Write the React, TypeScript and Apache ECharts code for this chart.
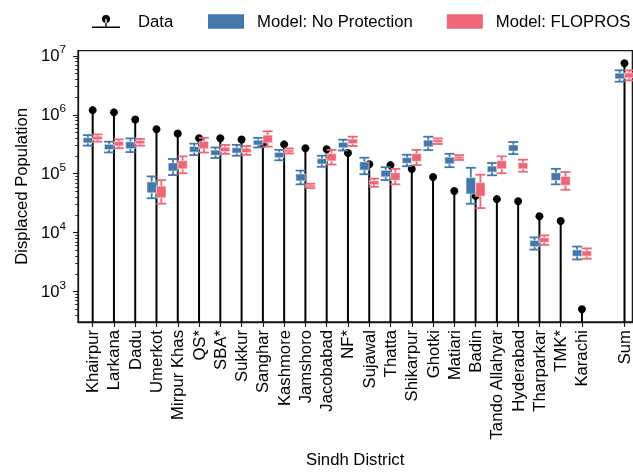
import React, { useEffect, useRef } from "react";
import * as echarts from "echarts";

const districts = [
  "Khairpur", "Larkana", "Dadu", "Umerkot", "Mirpur Khas", "QS*", "SBA*", "Sukkur",
  "Sanghar", "Kashmore", "Jamshoro", "Jacobabad", "NF*", "Sujawal", "Thatta", "Shikarpur",
  "Ghotki", "Matiari", "Badin", "Tando Allahyar", "Hyderabad", "Tharparkar", "TMK*", "Karachi", "Sum",
];
const positions = [0, 1, 2, 3, 4, 5, 6, 7, 8, 9, 10, 11, 12, 13, 14, 15, 16, 17, 18, 19, 20, 21, 22, 23, 25];

const observed = [
  1.2e6, 1.1e6, 8.3e5, 5.7e5, 4.8e5, 4.0e5, 4.0e5, 3.8e5, 3.2e5, 3.15e5, 2.7e5, 2.6e5, 2.25e5,
  1.45e5, 1.4e5, 1.2e5, 8.8e4, 5.1e4, 4.2e4, 3.7e4, 3.4e4, 1.9e4, 1.57e4, 500, 7.5e6,
];

// Model: No Protection
const npLow = [3.0e5, 2.3e5, 2.33e5, 3.83e4, 9.5e4, 2.07e5, 1.85e5, 2.02e5, 2.79e5, 1.69e5, 6.6e4, 1.31e5, 2.48e5, 9.8e4, 7.8e4, 1.34e5, 2.51e5, 1.29e5, 3.09e4, 9.4e4, 2.15e5, 5.15e3, 6.6e4, 3.5e3, 3.65e6];
const npQ1 = [3.33e5, 2.56e5, 2.66e5, 4.74e4, 1.11e5, 2.32e5, 2.05e5, 2.24e5, 3.06e5, 1.87e5, 7.57e4, 1.46e5, 2.76e5, 1.15e5, 8.83e4, 1.5e5, 2.86e5, 1.47e5, 4.52e4, 1.06e5, 2.42e5, 5.8e3, 7.71e4, 3.97e3, 4.07e6];
const npQ3 = [4.08e5, 3.16e5, 3.48e5, 7.28e4, 1.52e5, 2.9e5, 2.52e5, 2.78e5, 3.71e5, 2.3e5, 9.91e4, 1.81e5, 3.4e5, 1.59e5, 1.14e5, 1.88e5, 3.72e5, 1.91e5, 8.57e4, 1.35e5, 3.07e5, 7.35e3, 1.04e5, 5.11e3, 5.09e6];
const npHigh = [4.52e5, 3.5e5, 3.98e5, 9.0e4, 1.78e5, 3.24e5, 2.79e5, 3.09e5, 4.07e5, 2.54e5, 1.13e5, 2.02e5, 3.78e5, 1.87e5, 1.29e5, 2.1e5, 4.25e5, 2.18e5, 1.26e5, 1.52e5, 3.45e5, 8.3e3, 1.21e5, 5.8e3, 5.7e6];

// Model: FLOPROS
const fpLow = [3.5e5, 2.71e5, 3.0e5, 3.1e4, 1.02e5, 2.29e5, 2.18e5, 2.09e5, 2.88e5, 2.21e5, 5.69e4, 1.43e5, 2.95e5, 6.0e4, 6.6e4, 1.4e5, 3.2e5, 1.71e5, 2.61e4, 1.02e5, 1.08e5, 6.2e3, 5.35e4, 3.6e3, 3.83e6];
const fpQ1 = [3.77e5, 2.96e5, 3.22e5, 3.89e4, 1.21e5, 2.65e5, 2.38e5, 2.28e5, 3.35e5, 2.32e5, 5.94e4, 1.65e5, 3.24e5, 6.5e4, 7.69e4, 1.62e5, 3.38e5, 1.79e5, 4.14e4, 1.21e5, 1.21e5, 6.84e3, 6.35e4, 3.98e3, 4.23e6];
const fpQ3 = [4.34e5, 3.52e5, 3.66e5, 6.17e4, 1.67e5, 3.53e5, 2.82e5, 2.71e5, 4.52e5, 2.56e5, 6.47e4, 2.2e5, 3.88e5, 7.62e4, 1.04e5, 2.19e5, 3.77e5, 1.98e5, 7.08e4, 1.67e5, 1.54e5, 8.22e3, 8.97e4, 4.89e3, 5.15e6];
const fpHigh = [4.65e5, 3.83e5, 3.9e5, 7.8e4, 1.97e5, 4.07e5, 3.08e5, 2.95e5, 5.25e5, 2.69e5, 6.76e4, 2.54e5, 4.25e5, 8.26e4, 1.21e5, 2.54e5, 3.98e5, 2.07e5, 9.6e4, 1.97e5, 1.73e5, 9.0e3, 1.07e5, 5.4e3, 5.7e6];

const yMajor = [1e3, 1e4, 1e5, 1e6, 1e7];
const yMinor = [
  400, 500, 600, 700, 800, 900,
  2e3, 3e3, 4e3, 5e3, 6e3, 7e3, 8e3, 9e3,
  2e4, 3e4, 4e4, 5e4, 6e4, 7e4, 8e4, 9e4,
  2e5, 3e5, 4e5, 5e5, 6e5, 7e5, 8e5, 9e5,
  2e6, 3e6, 4e6, 5e6, 6e6, 7e6, 8e6, 9e6,
];

const BLUE = "#4477AA";
const RED = "#EE6677";
const FONT = "'Liberation Sans', Arial, sans-serif";
const FS = 16.7;

const nameAt = (v: number) => {
  const i = positions.indexOf(Math.round(v));
  return i >= 0 ? districts[i] : "";
};

const modelRenderer = (dx: number, color: string) => (params: any, api: any) => {
  const x = api.value(0);
  const pLo = api.coord([x, api.value(1)]);
  const pQ1 = api.coord([x, api.value(2)]);
  const pQ3 = api.coord([x, api.value(3)]);
  const pHi = api.coord([x, api.value(4)]);
  const cx = pLo[0] + dx;
  const bw = 9.5;
  const cw = 10;
  const lineStyle = { stroke: color, lineWidth: 1.8 };
  return {
    type: "group",
    children: [
      { type: "line", shape: { x1: cx, y1: pLo[1], x2: cx, y2: pHi[1] }, style: lineStyle },
      { type: "rect", shape: { x: cx - bw / 2, y: pQ3[1], width: bw, height: pQ1[1] - pQ3[1] }, style: { fill: color, stroke: "rgba(255,255,255,0.45)", lineWidth: 1.2 } },
      { type: "line", shape: { x1: cx - cw / 2, y1: pLo[1], x2: cx + cw / 2, y2: pLo[1] }, style: lineStyle },
      { type: "line", shape: { x1: cx - cw / 2, y1: pHi[1], x2: cx + cw / 2, y2: pHi[1] }, style: lineStyle },
    ],
  };
};

const dataRenderer = (params: any, api: any) => {
  const x = api.value(0);
  const p = api.coord([x, api.value(1)]);
  const bottom = params.coordSys.y + params.coordSys.height;
  return {
    type: "group",
    children: [
      { type: "line", shape: { x1: p[0], y1: bottom, x2: p[0], y2: p[1] }, style: { stroke: "#000", lineWidth: 2 } },
      { type: "circle", shape: { cx: p[0], cy: p[1], r: 4 }, style: { fill: "#000" } },
    ],
  };
};

const DATA_ICON =
  "path://M10,4 A4,4 0 1 0 18,4 A4,4 0 1 0 10,4 Z M13.3,4 L14.7,4 L14.7,11.7 L13.3,11.7 Z M0,11.7 L28,11.7 L28,13.2 L0,13.2 Z";

export default function App() {
  const ref = useRef<HTMLDivElement>(null);
  useEffect(() => {
    if (!ref.current) return;
    const chart = echarts.init(ref.current, undefined, { renderer: "svg" });
    const obsData = positions.map((p, i) => [p, observed[i]]);
    const npData = positions.map((p, i) => [p, npLow[i], npQ1[i], npQ3[i], npHigh[i]]);
    const fpData = positions.map((p, i) => [p, fpLow[i], fpQ1[i], fpQ3[i], fpHigh[i]]);
    const option: any = {
      animation: false,
      textStyle: { fontFamily: FONT },
      grid: {
        left: 78, right: -3, top: 50.7, bottom: 146,
        show: true, borderColor: "#1a1a1a", borderWidth: 1.3, backgroundColor: "transparent",
      },
      legend: [
        {
          data: [{ name: "Data", icon: DATA_ICON }],
          left: 92, top: 13, padding: 0,
          itemWidth: 28, itemHeight: 13.2,
          textStyle: { fontSize: FS, color: "#000", fontFamily: FONT, lineHeight: 17, padding: [0, 0, 0, 13] },
        },
        {
          data: [
            { name: "Model: No Protection", icon: "rect" },
            { name: "Model: FLOPROS", icon: "rect" },
          ],
          left: 208, top: 13, padding: 0, itemGap: 34,
          itemWidth: 36, itemHeight: 14.6,
          textStyle: { fontSize: FS, color: "#000", fontFamily: FONT, lineHeight: 17, padding: [0, 0, 0, 8] },
        },
      ],
      xAxis: {
        type: "value", min: -0.69, max: 25.37,
        axisLine: { show: true, onZero: false, lineStyle: { color: "#1a1a1a", width: 1.3 } },
        axisTick: { show: true, customValues: positions, length: 5, lineStyle: { color: "#1a1a1a", width: 1.1 } },
        axisLabel: {
          customValues: positions, rotate: 90, margin: 8, fontSize: FS, color: "#000", fontFamily: FONT,
          formatter: (v: number) => nameAt(v),
        },
        splitLine: { show: false },
        name: "Sindh District", nameLocation: "middle", nameGap: 129,
        nameTextStyle: { fontSize: FS, color: "#000", fontFamily: FONT },
      },
      yAxis: [
        {
          type: "log", logBase: 10, min: 304, max: 1.225e7,
          axisLine: { show: true, onZero: false, lineStyle: { color: "#1a1a1a", width: 1.3 } },
          axisTick: { show: true, customValues: yMajor, length: 5, lineStyle: { color: "#1a1a1a", width: 1.1 } },
          axisLabel: {
            customValues: yMajor, margin: 12, color: "#000",
            formatter: (v: number) => `{b|10}{s|${Math.round(Math.log10(v))}}`,
            rich: {
              b: { fontSize: FS, fontFamily: FONT, color: "#000", lineHeight: 17 },
              s: { fontSize: 11.7, fontFamily: FONT, color: "#000", lineHeight: 12, padding: [0, 0, 14, 0] },
            },
          },
          splitLine: { show: false },
          minorTick: { show: false },
          name: "Displaced Population", nameLocation: "middle", nameGap: 46,
          nameTextStyle: { fontSize: FS, color: "#000", fontFamily: FONT },
        },
        {
          type: "log", logBase: 10, min: 304, max: 1.225e7, position: "left", offset: 0,
          axisLine: { show: false, onZero: false },
          axisTick: { show: true, customValues: yMinor, length: 2.8, lineStyle: { color: "#1a1a1a", width: 0.9 } },
          axisLabel: { show: false },
          splitLine: { show: false },
        },
      ],
      series: [
        {
          type: "custom", name: "Data", renderItem: dataRenderer, data: obsData,
          itemStyle: { color: "#000" }, encode: { x: 0, y: 1 }, z: 2, clip: false,
        },
        {
          type: "custom", name: "Model: No Protection", renderItem: modelRenderer(-4.8, BLUE), data: npData,
          itemStyle: { color: BLUE }, encode: { x: 0, y: [1, 4] }, z: 3,
        },
        {
          type: "custom", name: "Model: FLOPROS", renderItem: modelRenderer(4.8, RED), data: fpData,
          itemStyle: { color: RED }, encode: { x: 0, y: [1, 4] }, z: 4,
        },
      ],
    };
    chart.setOption(option);
    return () => chart.dispose();
  }, []);
  return <div ref={ref} style={{ position: "fixed", left: 0, top: 0, width: 633, height: 473 }} />;
}
